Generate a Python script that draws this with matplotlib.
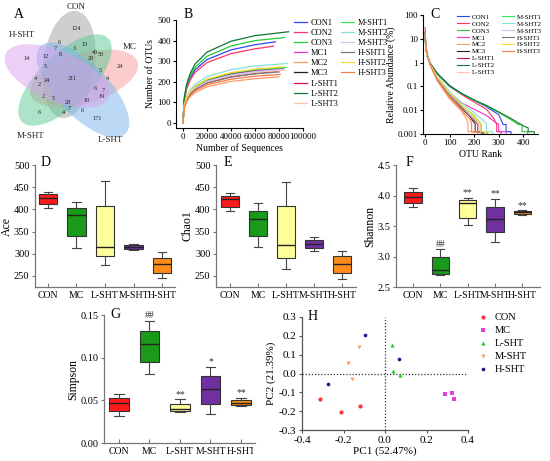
import matplotlib
matplotlib.use('Agg')
import matplotlib.pyplot as plt
from matplotlib.patches import Ellipse
from matplotlib.ticker import FormatStrFormatter, FixedLocator, FixedFormatter, NullLocator
from matplotlib.transforms import Bbox, TransformedBbox

plt.rcParams['font.family'] = ['Liberation Serif', 'DejaVu Serif']
plt.rcParams['axes.unicode_minus'] = False

# ---------------- data ----------------
groups = ['CON', 'MC', 'L-SHT', 'M-SHT', 'H-SHT']
box_colors = ['#ff1a1a', '#1a9a1a', '#ffff99', '#7030a0', '#ff8c1a']

# Venn (A)
venn_sets = ['CON', 'MC', 'M-SHT', 'L-SHT', 'H-SHT']
venn_counts = [124, 13, 6, 7, 3, 8, 12, 40, 50, 20, 24, 14, 5, 5, 4, 211,
               4, 24, 2, 6, 7, 19, 2, 5, 28, 10, 4, 7, 6, 6, 171]

# rarefaction (B)
sample_names = ['CON1', 'CON2', 'CON3', 'MC1', 'MC2', 'MC3', 'L-SHT1', 'L-SHT2',
                'L-SHT3', 'M-SHT1', 'M-SHT2', 'M-SHT3', 'H-SHT1', 'H-SHT2', 'H-SHT3']
sample_colors = ['#3344ee', '#ff3366', '#22cc33', '#ee33cc', '#ff9966', '#222222',
                 '#dd1144', '#117733', '#ffc4a8', '#33ee55', '#88dddd', '#c8c8f0',
                 '#777777', '#ffdd33', '#ff7744']
seq_depth = [0, 1000, 3000, 6000, 10000, 20000, 40000, 60000]
seq_end = [77000, 75500, 84700, 84000, 80000, 82000, 78000, 88000, 85000,
           86000, 86700, 83000, 80000, 83300, 81000]
otu_counts = [
    [0, 110, 172, 218, 258, 308, 355, 380, 394],
    [0, 105, 164, 208, 246, 293, 337, 360, 373],
    [0, 115, 180, 229, 270, 324, 374, 400, 415],
    [0, 80, 118, 148, 172, 205, 236, 253, 264],
    [0, 72, 104, 128, 148, 176, 202, 215, 224],
    [0, 82, 121, 151, 175, 209, 241, 258, 268],
    [0, 78, 113, 141, 163, 195, 225, 240, 250],
    [0, 120, 188, 240, 286, 344, 397, 424, 443],
    [0, 78, 115, 144, 167, 199, 229, 245, 256],
    [0, 82, 122, 152, 177, 211, 243, 259, 270],
    [0, 86, 128, 161, 188, 225, 259, 277, 289],
    [0, 80, 118, 147, 170, 203, 233, 249, 260],
    [0, 76, 112, 140, 162, 194, 223, 239, 248],
    [0, 83, 123, 154, 179, 213, 245, 262, 273],
    [0, 74, 108, 134, 156, 186, 213, 227, 236],
]

# rank abundance (C)
abund_ranks = [
    [1, 3, 10, 20, 50, 100, 150, 200, 250, 300, 318, 330, 330, 350, 350],
    [1, 3, 10, 20, 50, 100, 150, 200, 250, 280, 292, 292, 310, 310],
    [1, 3, 10, 20, 50, 100, 150, 200, 250, 300, 350, 380, 395, 395, 418, 418],
    [1, 3, 10, 20, 50, 100, 150, 200, 250, 280, 300, 300, 330, 330],
    [1, 3, 10, 20, 50, 100, 150, 170, 175, 175, 200, 200],
    [1, 3, 10, 20, 50, 100, 150, 180, 200, 205, 205, 235, 235],
    [1, 3, 10, 20, 50, 100, 150, 200, 215, 215, 240, 240],
    [1, 3, 10, 20, 50, 100, 150, 200, 250, 300, 350, 400, 420, 420, 445, 445],
    [1, 3, 10, 20, 50, 100, 150, 200, 220, 220, 245, 245],
    [1, 3, 10, 20, 50, 100, 150, 200, 230, 230, 255, 255],
    [1, 3, 10, 20, 50, 100, 150, 200, 250, 250, 275, 275],
    [1, 3, 10, 20, 50, 100, 150, 200, 225, 225, 250, 250],
    [1, 3, 10, 20, 50, 100, 150, 200, 205, 205, 230, 230],
    [1, 3, 10, 20, 50, 100, 150, 200, 228, 228, 250, 250],
    [1, 3, 10, 20, 50, 100, 150, 185, 190, 190, 215, 215],
]
abund_values = [
    [14, 4.5, 1.8, 1.0, 0.36, 0.11, 0.05, 0.026, 0.014, 0.0065, 0.0025, 0.0025, 0.00125, 0.00125, 0.0005],
    [20, 5, 1.9, 1.0, 0.34, 0.1, 0.045, 0.022, 0.011, 0.0045, 0.0025, 0.00125, 0.00125, 0.0005],
    [12, 4, 1.7, 0.95, 0.33, 0.1, 0.048, 0.026, 0.015, 0.008, 0.004, 0.0025, 0.0025, 0.00125, 0.00125, 0.0005],
    [30, 6, 2, 0.9, 0.22, 0.05, 0.02, 0.011, 0.006, 0.0035, 0.0025, 0.00125, 0.00125, 0.0005],
    [22, 5.5, 2, 0.85, 0.17, 0.03, 0.009, 0.004, 0.0025, 0.00125, 0.00125, 0.0005],
    [18, 5, 1.9, 0.9, 0.2, 0.04, 0.012, 0.006, 0.003, 0.0025, 0.00125, 0.00125, 0.0005],
    [16, 4.5, 1.8, 0.9, 0.22, 0.045, 0.014, 0.004, 0.0025, 0.00125, 0.00125, 0.0005],
    [13, 4, 1.7, 0.95, 0.34, 0.105, 0.05, 0.027, 0.016, 0.0085, 0.0045, 0.0022, 0.0018, 0.00125, 0.00125, 0.0005],
    [20, 5, 1.9, 0.85, 0.19, 0.04, 0.013, 0.0045, 0.0025, 0.00125, 0.00125, 0.0005],
    [15, 4.5, 1.8, 0.9, 0.24, 0.05, 0.016, 0.006, 0.0025, 0.00125, 0.00125, 0.0005],
    [14, 4.2, 1.7, 0.9, 0.26, 0.06, 0.02, 0.008, 0.0028, 0.00125, 0.00125, 0.0005],
    [17, 4.8, 1.8, 0.9, 0.23, 0.05, 0.015, 0.005, 0.0025, 0.00125, 0.00125, 0.0005],
    [19, 5, 1.9, 0.9, 0.21, 0.045, 0.013, 0.0035, 0.0025, 0.00125, 0.00125, 0.0005],
    [16, 4.6, 1.8, 0.9, 0.24, 0.052, 0.016, 0.0055, 0.0025, 0.00125, 0.00125, 0.0005],
    [21, 5.5, 2, 0.85, 0.18, 0.035, 0.01, 0.004, 0.0025, 0.00125, 0.00125, 0.0005],
]

# alpha diversity boxes (D-G): whisker low, q1, median, q3, whisker high
ace_low = [402, 312, 275, 308, 245]
ace_q1 = [411, 341, 294, 311, 257]
ace_med = [425, 387, 315, 315, 277]
ace_q3 = [434, 402, 408, 319, 291]
ace_high = [440, 416, 464, 321, 303]

chao_low = [396, 315, 265, 306, 243]
chao_q1 = [406, 339, 290, 312, 256]
chao_med = [424, 378, 320, 321, 276]
chao_q3 = [431, 397, 407, 331, 294]
chao_high = [438, 414, 462, 338, 306]

shan_low = [3.81, 2.69, 3.52, 3.24, 3.685]
shan_q1 = [3.88, 2.72, 3.635, 3.40, 3.695]
shan_med = [3.976, 2.776, 3.877, 3.62, 3.723]
shan_q3 = [4.06, 2.985, 3.92, 3.81, 3.745]
shan_high = [4.125, 3.12, 3.966, 3.95, 3.756]
shan_marks = ['', '##', '**', '**', '**']

simp_low = [0.032, 0.081, 0.036, 0.034, 0.043]
simp_q1 = [0.038, 0.095, 0.037, 0.046, 0.044]
simp_med = [0.047, 0.1165, 0.040, 0.063, 0.047]
simp_q3 = [0.053, 0.131, 0.046, 0.0785, 0.050]
simp_high = [0.057, 0.143, 0.051, 0.089, 0.053]
simp_marks = ['', '##', '**', '*', '**']

# PCA (H)
pca_groups = ['CON', 'MC', 'L-SHT', 'M-SHT', 'H-SHT']
pc1 = [[-0.311, -0.213, -0.12], [0.29, 0.323, 0.334], [0.032, 0.040, 0.071],
       [-0.18, -0.123, -0.16], [-0.275, -0.095, 0.068]]
pc2 = [[-0.134, -0.205, -0.17], [-0.109, -0.104, -0.134], [0.152, 0.014, -0.007],
       [0.054, 0.139, -0.03], [-0.054, 0.207, 0.077]]
pca_colors = ['#ff3333', '#e040e0', '#22cc22', '#ffa060', '#1a1a8c']
pca_markers = ['o', 's', '^', 'v', 'o']

# ---------------- figure ----------------
W, H = 550, 461
fig = plt.figure(figsize=(5.5, 4.61), dpi=100)


def px_axes(l, t, r, b):
    return fig.add_axes([l / W, 1 - b / H, (r - l) / W, (b - t) / H])


def letter(x, y, s):
    fig.text(x / W, 1 - y / H, s, fontsize=10, ha='center', va='center')


# A: Venn
ax = px_axes(0, 0, 150, 150)
ax.set_xlim(0, 150)
ax.set_ylim(150, 0)
ax.axis('off')
ell_centers = [(69, 64.5), (84, 78.5), (65, 80), (83, 90), (57, 76)]
ell_semi = [(54, 26), (56, 25), (60, 26), (61, 26), (56, 25)]
ell_angles = [82.5, 17, 44, -46, -23]
ell_colors = ['#a0a0a0', '#f79a9a', '#5cc992', '#78b4ea', '#d9a0ef']
for c, (a, b), ang, col in zip(ell_centers, ell_semi, ell_angles, ell_colors):
    ax.add_patch(Ellipse(c, 2 * a, 2 * b, angle=-ang, facecolor=col,
                         alpha=0.5, edgecolor='none'))
count_pos = [(76, 29), (85, 45), (59, 43), (55, 49), (74, 49), (60, 54), (46, 57),
             (95, 53), (101, 54), (91, 59), (120, 67), (27, 59), (45, 66), (100, 71),
             (35, 78), (72, 78), (107, 79), (47, 81), (39, 84), (95, 89), (103, 90),
             (102, 97), (43, 96), (53, 99), (68, 102), (87, 101), (63, 112), (69, 109),
             (82, 110), (39, 113), (97, 118)]
for n, (x, y) in zip(venn_counts, count_pos):
    ax.text(x, y, str(n), fontsize=4.5, ha='center', va='center', color='#222222')
set_pos = [(76, 7), (130, 47), (31, 136), (110, 140), (22, 35)]
for s, (x, y) in zip(venn_sets, set_pos):
    ax.text(x, y, s, fontsize=6.5, ha='center', va='center', color='#222222')
letter(19, 14, 'A')

# B: rarefaction
ax = px_axes(176, 20, 303, 128)
for i, name in enumerate(sample_names):
    ax.plot(seq_depth + [seq_end[i]], otu_counts[i], color=sample_colors[i],
            lw=0.9, label=name)
ax.set_xlim(-5800, 100000)
ax.set_ylim(-24, 500)
ax.set_xticks([0, 20000, 40000, 60000, 80000, 100000])
ax.set_yticks([0, 100, 200, 300, 400, 500])
for s in ['top', 'right']:
    ax.spines[s].set_visible(False)
for s in ['left', 'bottom']:
    ax.spines[s].set_linewidth(0.8)
ax.tick_params(labelsize=6.5, length=2, width=0.8, pad=1.5)
ax.set_xlabel('Number of Sequences', fontsize=7, labelpad=2)
ax.set_ylabel('Number of OTUs', fontsize=7, labelpad=2)
hb = ax.get_lines()
leg_kw = dict(loc='upper left', frameon=False, fontsize=6, handlelength=1.5,
              handletextpad=0.5, labelspacing=0.25, borderpad=0, borderaxespad=0)
fig.legend(hb[:9], sample_names[:9], bbox_to_anchor=(294 / W, 1 - 19 / H), **leg_kw)
fig.legend(hb[9:], sample_names[9:], bbox_to_anchor=(341 / W, 1 - 19 / H), **leg_kw)
letter(188, 15, 'B')

# C: rank abundance
ax = px_axes(423, 15, 538, 134)
for i, name in enumerate(sample_names):
    ax.plot(abund_ranks[i], abund_values[i], color=sample_colors[i], lw=0.8, label=name)
ax.set_yscale('log')
ax.set_ylim(0.001, 100)
ax.set_xlim(-8, 460)
ax.set_xticks([0, 100, 200, 300, 400])
ax.yaxis.set_major_locator(FixedLocator([0.001, 0.01, 0.1, 1, 10, 100]))
ax.yaxis.set_major_formatter(FixedFormatter(['0.001', '0.01', '0.1', '1', '10', '100']))
ax.yaxis.set_minor_locator(NullLocator())
for s in ['top', 'right']:
    ax.spines[s].set_visible(False)
for s in ['left', 'bottom']:
    ax.spines[s].set_linewidth(0.8)
ax.tick_params(labelsize=6.5, length=2, width=0.8, pad=1.5)
ax.set_xlabel('OTU Rank', fontsize=7, labelpad=2)
ax.set_ylabel('Relative Abundance (%)', fontsize=7, labelpad=1)
hc = ax.get_lines()
leg_kw = dict(loc='upper left', frameon=False, fontsize=5, handlelength=1.7,
              handletextpad=0.4, labelspacing=0.15, borderpad=0, borderaxespad=0)
fig.legend(hc[:9], sample_names[:9], bbox_to_anchor=(457 / W, 1 - 14 / H), **leg_kw)
fig.legend(hc[9:], sample_names[9:], bbox_to_anchor=(502 / W, 1 - 14 / H), **leg_kw)
letter(435, 14, 'C')


# D-G: box plots
def box_panel(ax, low, q1, med, q3, high, xlim, ylim, yticks, fmt, ylabel, marks=None):
    stats = [dict(whislo=low[i], q1=q1[i], med=med[i], q3=q3[i], whishi=high[i],
                  fliers=[]) for i in range(5)]
    bp = ax.bxp(stats, positions=[1, 2, 3, 4, 5], widths=0.64, patch_artist=True,
                showfliers=False, capwidths=0.3,
                boxprops=dict(edgecolor='#333333', linewidth=0.8),
                whiskerprops=dict(color='#444444', linewidth=0.8),
                capprops=dict(color='#444444', linewidth=0.8),
                medianprops=dict(color='#222222', linewidth=1.0))
    for patch, c in zip(bp['boxes'], box_colors):
        patch.set_facecolor(c)
    ax.set_xlim(xlim)
    ax.set_ylim(ylim)
    ax.set_yticks(yticks)
    ax.yaxis.set_major_formatter(FormatStrFormatter(fmt))
    ax.set_xticks([1, 2, 3, 4, 5])
    ax.set_xticklabels(groups)
    for s in ['top', 'right']:
        ax.spines[s].set_visible(False)
    for s in ['left', 'bottom']:
        ax.spines[s].set_color('#777777')
        ax.spines[s].set_linewidth(0.9)
    ax.tick_params(axis='x', direction='in', length=3, pad=3, labelsize=7, color='#777777')
    ax.tick_params(axis='y', direction='out', length=2.5, pad=1.5, labelsize=7.5, color='#777777')
    ax.set_ylabel(ylabel, fontsize=8.5, labelpad=1)
    if marks:
        off = (ylim[1] - ylim[0]) * 0.005
        for i, m in enumerate(marks):
            if m:
                ax.text(i + 1, high[i] + off, m, ha='center', va='bottom', fontsize=7,
                        color='#333333')
    return ax


ax = px_axes(35, 165, 175, 287)
box_panel(ax, ace_low, ace_q1, ace_med, ace_q3, ace_high, (0.544, 5.456), (225, 500),
          [250, 300, 350, 400, 450, 500], '%d', 'Ace')
letter(46, 162, 'D')

ax = px_axes(216, 165, 356, 287)
box_panel(ax, chao_low, chao_q1, chao_med, chao_q3, chao_high, (0.5, 5.5), (225, 500),
          [250, 300, 350, 400, 450, 500], '%d', 'Chao1')
letter(228, 162, 'E')

ax = px_axes(396, 165, 540, 287)
box_panel(ax, shan_low, shan_q1, shan_med, shan_q3, shan_high, (0.376, 5.65), (2.5, 4.5),
          [2.5, 3.0, 3.5, 4.0, 4.5], '%.1f', 'Shannon', shan_marks)
letter(409, 162, 'F')

ax = px_axes(104, 315, 255, 443)
box_panel(ax, simp_low, simp_q1, simp_med, simp_q3, simp_high, (0.508, 5.46), (0, 0.15),
          [0.0, 0.05, 0.10, 0.15], '%.2f', 'Simpson', simp_marks)
clip = TransformedBbox(Bbox([[0, 0], [253 / W, 1]]), fig.transFigure)
lbl = ax.get_xticklabels()[-1]
lbl.set_clip_box(clip)
lbl.set_clip_on(True)
letter(115, 315, 'G')

# H: PCA
ax = px_axes(302, 317, 468, 430)
ax.axhline(0, color='#333333', lw=0.9, ls=(0, (1, 1.5)), zorder=1)
ax.axvline(0, color='#333333', lw=0.9, ls=(0, (1, 1.5)), zorder=1)
for g, xs, ys, c, m in zip(pca_groups, pc1, pc2, pca_colors, pca_markers):
    ax.scatter(xs, ys, s=9 if m != 'o' or g == 'CON' else 7, c=c, marker=m,
               linewidths=0, label=g, zorder=3)
ax.set_xlim(-0.4, 0.4)
ax.set_ylim(-0.3, 0.3)
ax.set_xticks([-0.4, -0.2, 0.0, 0.2, 0.4])
ax.set_yticks([-0.3, -0.2, -0.1, 0.0, 0.1, 0.2, 0.3])
ax.xaxis.set_major_formatter(FormatStrFormatter('%.1f'))
ax.yaxis.set_major_formatter(FormatStrFormatter('%.1f'))
for s in ['top', 'right']:
    ax.spines[s].set_visible(False)
for s in ['left', 'bottom']:
    ax.spines[s].set_color('#555555')
    ax.spines[s].set_linewidth(0.9)
ax.tick_params(labelsize=8, length=2.5, pad=1.5, color='#555555')
ax.set_xlabel('PC1 (52.47%)', fontsize=8, labelpad=1)
ax.set_ylabel('PC2 (21.39%)', fontsize=8, labelpad=2)
ax.legend(loc='upper left', bbox_to_anchor=(1.03, 1.04), frameon=False, fontsize=7.5,
          handletextpad=0.1, labelspacing=0.35, borderpad=0, borderaxespad=0,
          scatterpoints=1)
letter(313, 316, 'H')

fig.savefig('out.png', dpi=100)
